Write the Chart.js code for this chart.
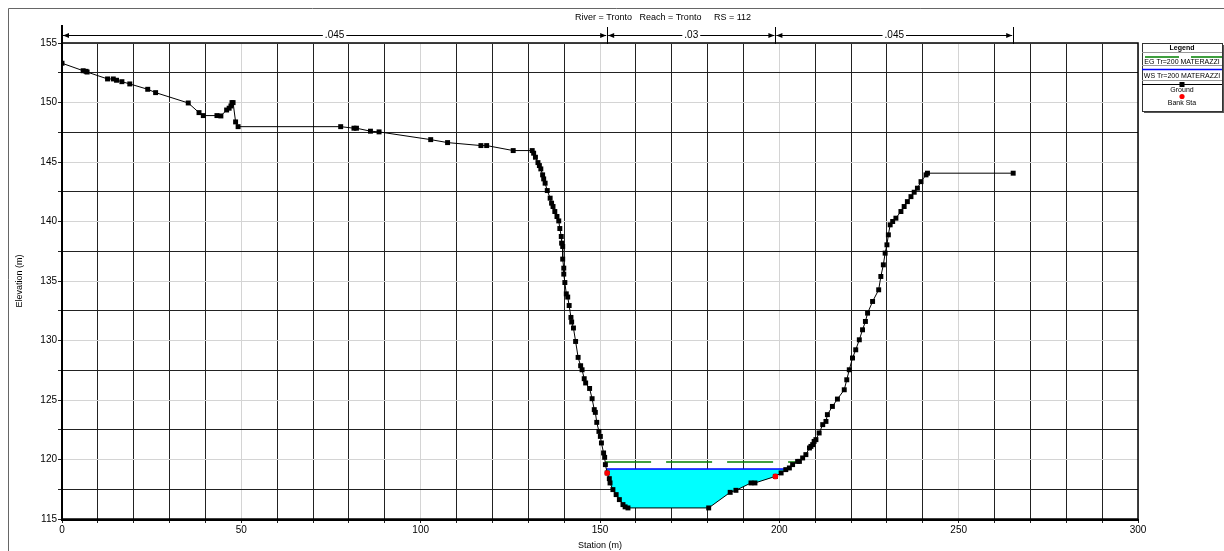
<!DOCTYPE html>
<html>
<head>
<meta charset="utf-8">
<script src="https://cdn.jsdelivr.net/npm/chart.js@4.4.1/dist/chart.umd.min.js"></script>
<style>
  html, body { margin: 0; padding: 0; background: #fff; }
  #wrap { width: 1224px; height: 551px; }
</style>
</head>
<body>
<div id="wrap"><canvas id="xs" width="1224" height="551"></canvas></div>
<script>
// cross section RS 112, river Tronto
var groundSta = [0, 5.9, 6.7, 7.0, 12.7, 14.3, 15.2, 16.7, 18.9, 23.9, 26.1, 35.2, 38.2, 39.4, 43.2, 44.3,
    45.9, 46.6, 47.1, 47.4, 47.7, 48.4, 49.1, 77.7, 81.4, 82.1, 86.0, 88.4, 102.8, 107.5, 116.8, 118.4,
    125.8, 131.1, 131.5, 132.0, 132.7, 133.1, 133.5, 134.0, 134.3, 134.7, 135.3, 136.1, 136.5, 136.9,
    137.4, 138.0, 138.5, 138.8, 139.2, 139.3, 139.6, 139.6, 139.9, 139.9, 140.2, 140.6, 141.0, 141.4,
    141.9, 142.1, 142.6, 143.2, 143.9, 144.6, 145.0, 145.6, 146.0, 147.1, 147.8, 148.4, 148.7, 149.1,
    149.7, 150.1, 150.4, 151.0, 151.3, 151.5, 152.0, 152.6, 152.8, 153.6, 154.5, 155.4, 156.4, 157.0,
    157.8, 180.3, 186.3, 187.9, 192.1, 193.2, 198.9, 200.5, 201.8, 202.8, 203.7, 205.1, 205.6, 206.5,
    207.4, 208.4, 208.8, 209.3, 209.7, 210.2, 211.1, 212.1, 213.0, 213.4, 214.8, 216.2, 218.1, 218.8,
    219.5, 220.4, 221.3, 222.3, 223.2, 224.0, 224.6, 226.0, 227.7, 228.3, 229.0, 229.5, 230.0, 230.4,
    230.9, 231.6, 232.5, 233.9, 234.8, 235.7, 236.7, 237.6, 238.5, 239.5, 240.9, 241.3, 265.2];
var groundElev = [153.3, 152.67, 152.62, 152.56, 151.98, 151.98, 151.87, 151.75, 151.56, 151.11, 150.83,
    149.96, 149.15, 148.9, 148.9, 148.87, 149.37, 149.52, 149.71, 149.99, 149.99, 148.37, 147.97, 147.97,
    147.84, 147.84, 147.59, 147.53, 146.88, 146.63, 146.38, 146.38, 145.96, 145.96, 145.74, 145.4, 144.95,
    144.7, 144.42, 143.92, 143.58, 143.22, 142.6, 141.96, 141.54, 141.26, 140.84, 140.42, 140.05, 139.41,
    138.74, 138.18, 137.9, 136.84, 136.08, 135.58, 134.87, 133.92, 133.65, 132.94, 131.94, 131.55, 131.05,
    129.92, 128.58, 127.88, 127.54, 126.79, 126.43, 125.97, 125.11, 124.19, 123.96, 123.12, 122.36, 121.94,
    121.39, 120.55, 120.18, 119.57, 118.87, 118.39, 118.03, 117.47, 117.05, 116.63, 116.21, 116.02, 115.93,
    115.93, 117.24, 117.41, 118.03, 118.03, 118.58, 118.87, 119.15, 119.29, 119.57, 119.84, 119.84, 120.13,
    120.41, 120.97, 121.1, 121.25, 121.52, 121.67, 122.23, 122.93, 123.2, 123.77, 124.46, 125.08, 125.86,
    126.7, 127.54, 128.53, 129.22, 130.06, 130.9, 131.6, 132.3, 133.28, 134.26, 135.38, 136.36, 137.34,
    138.04, 138.88, 139.72, 140.0, 140.28, 140.84, 141.26, 141.67, 142.09, 142.46, 142.8, 143.35, 143.92,
    144.06, 144.06];
var bankSta = [152.0, 198.9];
var bankElev = [118.87, 118.58];
var wsElev = 119.2;
var egElev = 119.8;
var nBreaks = [0, 152.0, 198.9, 265.2];
var nValues = ['.045', '.03', '.045'];
var profileName = 'Tr=200 MATERAZZI';
var titleText = 'River = Tronto   Reach = Tronto     RS = 112';

function pts(xs, ys) {
    return xs.map(function (x, i) { return {x: x, y: ys[i]}; });
}

// where the ground crosses a level on both sides of the channel bottom
function crossings(level) {
    var lo = 0;
    groundElev.forEach(function (e, i) { if (e < groundElev[lo]) lo = i; });
    var a = lo, b = lo;
    while (groundElev[a - 1] < level) a--;
    while (groundElev[b + 1] < level) b++;
    function at(i, j) {
        var t = (level - groundElev[i]) / (groundElev[j] - groundElev[i]);
        return groundSta[i] + t * (groundSta[j] - groundSta[i]);
    }
    return {a: a, b: b, left: at(a - 1, a), right: at(b, b + 1)};
}

var wsX = crossings(wsElev);
var egX = crossings(egElev);

var water = [{x: wsX.left, y: wsElev}];
for (var i = wsX.a; i <= wsX.b; i++) water.push({x: groundSta[i], y: groundElev[i]});
water.push({x: wsX.right, y: wsElev});

var font = "'Liberation Sans', Arial, sans-serif";

var framePlugin = {
    id: 'frame',
    beforeDraw: function (chart) {
        var c = chart.ctx;
        c.save();
        c.fillStyle = '#fff';
        c.fillRect(0, 0, chart.width, chart.height);
        c.strokeStyle = '#666';
        c.lineWidth = 1;
        c.beginPath();
        c.moveTo(8.5, chart.height);
        c.lineTo(8.5, 8.5);
        c.lineTo(chart.width, 8.5);
        c.stroke();
        c.restore();
    },
    beforeDatasetsDraw: function (chart) {
        var a = chart.chartArea, c = chart.ctx;
        c.save();
        c.strokeStyle = '#000';
        c.lineWidth = 1.5;
        c.strokeRect(a.left, a.top, a.right - a.left, a.bottom - a.top);
        c.beginPath();
        c.lineWidth = 2;
        c.moveTo(a.left, a.top - 18);
        c.lineTo(a.left, a.bottom + 1);
        c.lineTo(a.right + 1, a.bottom + 1);
        c.stroke();
        c.restore();
    },
    afterDraw: function (chart) {
        var c = chart.ctx, xs = chart.scales.x;
        c.save();
        // title
        c.fillStyle = '#000';
        c.font = '9px ' + font;
        c.textAlign = 'center';
        c.textBaseline = 'middle';
        c.fillText(titleText, 663, 18);

        // manning n bars
        c.font = '10px ' + font;
        var yb = 35.5;
        c.strokeStyle = '#000';
        c.lineWidth = 1;
        nBreaks.forEach(function (s) {
            var px = Math.round(xs.getPixelForValue(s)) + 0.5;
            c.beginPath();
            c.moveTo(px, 27);
            c.lineTo(px, 44);
            c.stroke();
        });
        for (var k = 0; k < nValues.length; k++) {
            var x0 = xs.getPixelForValue(nBreaks[k]) + 1;
            var x1 = xs.getPixelForValue(nBreaks[k + 1]) - 1;
            var xm = (x0 + x1) / 2;
            var tw = c.measureText(nValues[k]).width + 4;
            c.beginPath();
            c.moveTo(x0, yb); c.lineTo(xm - tw / 2, yb);
            c.moveTo(xm + tw / 2, yb); c.lineTo(x1, yb);
            c.stroke();
            c.beginPath();
            c.moveTo(x0, yb); c.lineTo(x0 + 6, yb - 2.5); c.lineTo(x0 + 6, yb + 2.5); c.closePath();
            c.moveTo(x1, yb); c.lineTo(x1 - 6, yb - 2.5); c.lineTo(x1 - 6, yb + 2.5); c.closePath();
            c.fill();
            c.fillText(nValues[k], xm, yb);
        }

        // legend box
        var L = 1142, T = 43, W = 80, H = 68;
        c.fillStyle = '#555';
        c.fillRect(L + 2, T + 2, W, H);
        c.fillStyle = '#fff';
        c.fillRect(L, T, W, H);
        c.strokeStyle = '#333';
        c.strokeRect(L + 0.5, T + 0.5, W, H);
        var cx = L + W / 2;
        c.fillStyle = '#000';
        c.font = 'bold 7px ' + font;
        c.fillText('Legend', cx, T + 5);
        c.strokeStyle = '#999';
        c.beginPath(); c.moveTo(L, T + 9.5); c.lineTo(L + W, T + 9.5); c.stroke();
        c.font = "7px 'Liberation Sans Narrow', " + font;
        var ds = chart.data.datasets;
        // EG
        c.strokeStyle = ds[3].borderColor; c.lineWidth = 1.5;
        c.setLineDash([34, 12]);
        c.beginPath(); c.moveTo(L + 3, T + 14); c.lineTo(L + W, T + 14); c.stroke();
        c.setLineDash([]);
        c.fillText(ds[3].label, cx, T + 19);
        c.strokeStyle = '#999'; c.lineWidth = 1;
        c.beginPath(); c.moveTo(L, T + 22.5); c.lineTo(L + W, T + 22.5); c.stroke();
        // WS
        c.strokeStyle = ds[2].borderColor; c.lineWidth = 1.5;
        c.beginPath(); c.moveTo(L, T + 26.5); c.lineTo(L + W, T + 26.5); c.stroke();
        c.fillText(ds[2].label, cx, T + 33);
        c.strokeStyle = '#999'; c.lineWidth = 1;
        c.beginPath(); c.moveTo(L, T + 37.5); c.lineTo(L + W, T + 37.5); c.stroke();
        // ground
        c.strokeStyle = '#000';
        c.beginPath(); c.moveTo(L, T + 41.5); c.lineTo(L + W, T + 41.5); c.stroke();
        c.fillRect(cx - 2.5, T + 39, 5, 5);
        c.fillText(ds[0].label, cx, T + 47);
        // bank sta
        c.fillStyle = 'red';
        c.beginPath(); c.arc(cx, T + 53.5, 2.6, 0, Math.PI * 2); c.fill();
        c.fillStyle = '#000';
        c.fillText(ds[1].label, cx, T + 60);
        c.restore();
    }
};

function gridColor(ctx, major) {
    if (!ctx.tick) return '#222';
    return Math.abs(ctx.tick.value % major) < 1e-6 ? '#d4d4d4' : '#222';
}

new Chart(document.getElementById('xs'), {
    type: 'scatter',
    data: {
        datasets: [{
            label: 'Ground',
            data: pts(groundSta, groundElev),
            showLine: true,
            borderColor: '#000',
            borderWidth: 1,
            backgroundColor: '#000',
            pointStyle: 'rect',
            pointRadius: 3.5,
            pointBorderWidth: 0,
            order: 1
        }, {
            label: 'Bank Sta',
            data: pts(bankSta, bankElev),
            showLine: false,
            backgroundColor: '#ff0000',
            borderColor: '#ff0000',
            pointRadius: 2.8,
            pointBorderWidth: 0,
            order: 0
        }, {
            label: 'WS ' + profileName,
            data: [{x: wsX.left, y: wsElev}, {x: wsX.right, y: wsElev}],
            showLine: true,
            borderColor: '#0000ff',
            borderWidth: 1.5,
            pointRadius: 0,
            order: 3
        }, {
            label: 'EG ' + profileName,
            data: [{x: egX.left, y: egElev}, {x: egX.right, y: egElev}],
            showLine: true,
            borderColor: '#008000',
            borderWidth: 1.5,
            borderDash: [46, 15],
            pointRadius: 0,
            order: 4
        }, {
            label: 'water',
            data: water,
            showLine: true,
            fill: 'shape',
            backgroundColor: '#00ffff',
            borderWidth: 0,
            pointRadius: 0,
            order: 5
        }]
    },
    options: {
        responsive: false,
        animation: false,
        layout: { padding: { top: 43, right: 86, left: 0, bottom: 0 } },
        plugins: {
            legend: { display: false },
            tooltip: { enabled: false }
        },
        scales: {
            x: {
                type: 'linear',
                min: 0,
                max: 300,
                afterFit: function (s) { s.height = 32; },
                ticks: {
                    stepSize: 10,
                    autoSkip: false,
                    maxRotation: 0,
                    padding: 1,
                    color: '#000',
                    font: { family: font, size: 10 },
                    callback: function (v) { return v % 50 === 0 ? v : ''; }
                },
                grid: {
                    color: function (ctx) { return gridColor(ctx, 50); },
                    tickColor: '#222',
                    tickLength: 4
                },
                border: { display: false },
                title: {
                    display: true,
                    text: 'Station (m)',
                    color: '#000',
                    font: { family: font, size: 9 },
                    padding: 0
                }
            },
            y: {
                type: 'linear',
                min: 115,
                max: 155,
                afterFit: function (s) { s.width = 62; },
                ticks: {
                    stepSize: 2.5,
                    autoSkip: false,
                    padding: 1,
                    color: '#000',
                    font: { family: font, size: 10 },
                    callback: function (v) { return v % 5 === 0 ? v : ''; }
                },
                grid: {
                    color: function (ctx) { return gridColor(ctx, 5); },
                    tickColor: '#222',
                    tickLength: 4
                },
                border: { display: false },
                title: {
                    display: true,
                    text: 'Elevation (m)',
                    color: '#000',
                    font: { family: font, size: 9 },
                    padding: { top: 14, bottom: 0 }
                }
            }
        }
    },
    plugins: [framePlugin]
});
</script>
</body>
</html>
